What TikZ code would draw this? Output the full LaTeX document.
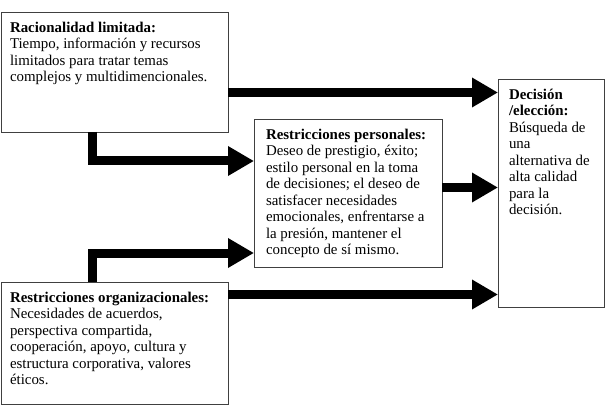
\documentclass[tikz,border=0pt]{standalone}
\usepackage{fontspec}
\setmainfont{Liberation Serif}
\usetikzlibrary{arrows.meta}

% box text: fixed-size top-aligned block, one line per row
\newcommand{\contenido}[3]{\parbox[t][#2][t]{#1}{\begin{tabular}[t]{@{}l@{}}#3\end{tabular}}}

\begin{document}
\begin{tikzpicture}[
  x=1pt, y=1pt,
  caja/.style={rectangle, draw=black!75, line width=0.8pt, fill=white,
               anchor=north west, inner xsep=9pt, inner ysep=8.5pt, outer sep=0pt,
               font=\fontsize{14.9}{16.5}\selectfont},
  flecha/.style={-{Triangle[length=26pt,width=28pt]}, line width=9pt, line join=miter}
]
\useasboundingbox (0,0) rectangle (612,410);

\node[caja] (racional) at (1,398) {\contenido{209pt}{103pt}{%
  \textbf{Racionalidad limitada:}\\ Tiempo, información y recursos\\
  limitados para tratar temas\\ complejos y multidimencionales.}};
\node[caja, inner xsep=12pt] (personal) at (254,291) {\contenido{164pt}{131pt}{%
  \textbf{Restricciones personales:}\\ Deseo de prestigio, éxito;\\
  estilo personal en la toma\\ de decisiones; el deseo de\\
  satisfacer necesidades\\ emocionales, enfrentarse a\\
  la presión, mantener el\\ concepto de sí mismo.}};
\node[caja, inner xsep=11pt] (decision) at (498,331) {\contenido{84pt}{211pt}{%
  \textbf{Decisión}\\ \textbf{/elección:}\\ Búsqueda de\\ una\\
  alternativa de\\ alta calidad\\ para la\\ decisión.}};
\node[caja] (organiz) at (1,128) {\contenido{209pt}{105pt}{%
  \textbf{Restricciones organizacionales:}\\ Necesidades de acuerdos,\\
  perspectiva compartida,\\ cooperación, apoyo, cultura y\\
  estructura corporativa, valores\\ éticos.}};

% straight arrows into the decision box
\coordinate (a1) at ([yshift=-20.5pt]racional.east);
\coordinate (a4) at ([yshift=48.5pt]organiz.east);
\coordinate (a5) at ([yshift=5.5pt]personal.east);
\draw[flecha] (a1) -- (a1 -| decision.west);
\draw[flecha] (a5) -- (a5 -| decision.west);
\draw[flecha] (a4) -- (a4 -| decision.west);

% elbow arrows into the personal box
\draw[flecha] ([xshift=-22.5pt]racional.south) |- ([yshift=32pt]personal.west);
\draw[flecha] ([xshift=-22.5pt]organiz.north) |- ([yshift=-60pt]personal.west);
\end{tikzpicture}
\end{document}
